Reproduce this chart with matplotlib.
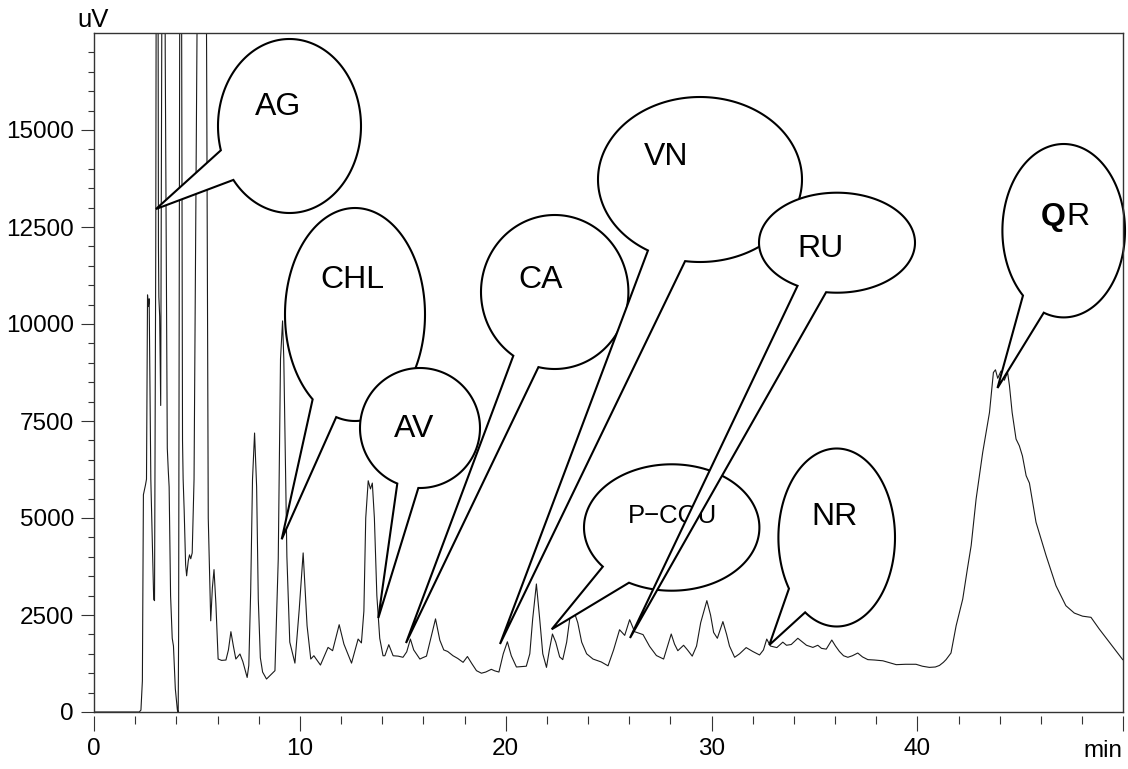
import numpy as np
import matplotlib
matplotlib.use('Agg')
import matplotlib.pyplot as plt
from matplotlib.patches import Polygon
from matplotlib.transforms import Affine2D
from matplotlib.ticker import FixedLocator

plt.rcParams['font.family'] = ['Liberation Sans', 'DejaVu Sans']

W, H = 1128, 769

# chromatogram trace (retention time in min, signal in uV)
# peaks that run off the top of the chart are given estimated heights above the axis limit
rt_min = [
    0.00, 2.20, 2.28, 2.35, 2.40, 2.50, 2.55, 2.60, 2.64, 2.68, 2.76, 2.90, 2.94,
    3.00, 3.07, 3.13, 3.15, 3.19, 3.24, 3.29, 3.38, 3.46, 3.56, 3.61, 3.65, 3.72,
    3.80, 3.86, 3.95, 4.05, 4.09, 4.11, 4.16, 4.21, 4.26, 4.30, 4.33, 4.38, 4.45,
    4.50, 4.58, 4.64, 4.70, 4.77, 4.86, 5.00, 5.25, 5.47, 5.55, 5.67, 5.75, 5.83,
    5.92, 6.03, 6.20, 6.41, 6.53, 6.65, 6.77, 6.89, 7.09, 7.23, 7.44, 7.52, 7.61,
    7.70, 7.80, 7.90, 7.98, 8.08, 8.19, 8.38, 8.63, 8.79, 8.95, 9.06, 9.16, 9.22,
    9.37, 9.51, 9.76, 9.97, 10.16, 10.35, 10.53, 10.68, 11.00, 11.37, 11.59, 11.91,
    12.14, 12.51, 12.83, 12.99, 13.11, 13.20, 13.32, 13.43, 13.52, 13.62, 13.74,
    13.88, 14.04, 14.13, 14.32, 14.53, 14.77, 15.01, 15.19, 15.37, 15.53, 15.83,
    15.97, 16.15, 16.36, 16.59, 16.80, 16.99, 17.18, 17.44, 17.67, 17.93, 18.14,
    18.35, 18.58, 18.82, 19.03, 19.30, 19.47, 19.67, 19.88, 20.08, 20.27, 20.52,
    20.73, 21.00, 21.17, 21.31, 21.49, 21.65, 21.80, 21.98, 22.12, 22.27, 22.43,
    22.62, 22.77, 22.96, 23.11, 23.30, 23.50, 23.69, 23.93, 24.24, 24.64, 24.97,
    25.24, 25.53, 25.78, 26.02, 26.26, 26.67, 26.99, 27.32, 27.67, 27.86, 28.04,
    28.20, 28.36, 28.64, 28.83, 29.06, 29.27, 29.47, 29.77, 29.95, 30.10, 30.28,
    30.55, 30.73, 30.87, 31.12, 31.36, 31.68, 32.00, 32.33, 32.52, 32.68, 32.86,
    33.17, 33.46, 33.64, 33.87, 34.19, 34.42, 34.61, 34.92, 35.16, 35.34, 35.57,
    35.84, 36.02, 36.21, 36.41, 36.62, 36.84, 37.10, 37.33, 37.59, 37.91, 38.32,
    38.64, 38.97, 39.42, 39.93, 40.24, 40.58, 40.87, 41.07, 41.26, 41.39, 41.63,
    41.88, 42.20, 42.43, 42.61, 42.85, 43.17, 43.50, 43.69, 43.79, 43.90, 44.06,
    44.22, 44.38, 44.47, 44.60, 44.79, 44.95, 45.10, 45.28, 45.44, 45.76, 46.25,
    46.73, 47.21, 47.62, 48.02, 48.43, 48.83, 49.32, 49.97,
]
signal_uV = [
    0, 0, 50, 800, 5600, 5850, 6000, 10750, 10450, 10650, 6000, 2900, 2870,
    12000, 35000, 12000, 10700, 10200, 7900, 17000, 35000, 17000, 6800, 6200, 5800, 3000,
    1900, 1700, 600, 50, 0, 2000, 17000, 30000, 17000, 7000, 6000, 5200, 3800,
    3510, 3900, 4050, 3950, 4100, 6000, 17000, 40000, 17000, 5000, 2350, 3200, 3670,
    2800, 1365, 1330, 1340, 1600, 2070, 1700, 1365, 1495, 1300, 890, 1200, 3090,
    6000, 7190, 5800, 2910, 1400, 1030, 850, 980, 1065, 3940, 9100, 10080, 9100,
    4000, 1800, 1260, 2650, 4100, 2225, 1365, 1450, 1210, 1665, 1580, 2250,
    1750, 1260, 1880, 1780, 2600, 5000, 5960, 5750, 5900, 5000, 3000,
    1900, 1450, 1450, 1735, 1450, 1440, 1410, 1550, 1880, 1600, 1365,
    1400, 1440, 1900, 2400, 1850, 1600, 1560, 1450, 1380, 1280, 1430,
    1250, 1065, 1000, 1030, 1100, 1060, 1030, 1500, 1810, 1450, 1160,
    1170, 1180, 1500, 2400, 3300, 2400, 1500, 1150, 1600, 2010, 1800,
    1420, 1350, 1800, 2400, 2620, 2300, 1800, 1500, 1365, 1290, 1190,
    1600, 2120, 1975, 2380, 2070, 1995, 1690, 1455, 1365, 1700, 2010,
    1750, 1580, 1720, 1600, 1440, 1700, 2300, 2870, 2500, 2050, 1900,
    2330, 2000, 1700, 1410, 1500, 1660, 1560, 1470, 1600, 1880, 1700,
    1660, 1800, 1720, 1740, 1900, 1800, 1720, 1665, 1720, 1640, 1620,
    1855, 1700, 1560, 1450, 1410, 1450, 1520, 1420, 1350, 1340, 1320,
    1270, 1220, 1230, 1230, 1180, 1150, 1160, 1200, 1280, 1350, 1520,
    2225, 2910, 3700, 4290, 5490, 6690, 7720, 8750, 8820, 8600, 8790,
    8550, 8750, 8410, 7720, 7035, 6860, 6600, 6090, 5900, 4890, 4030,
    3255, 2740, 2550, 2470, 2440, 2140, 1800, 1350,
]

x_major = [0, 10, 20, 30, 40, 50]
x_major_labels = ['0', '10', '20', '30', '40', '']
x_minor = list(range(0, 51, 2))
y_major = [0, 2500, 5000, 7500, 10000, 12500, 15000]
y_minor = list(range(0, 17001, 500))

# callout balloons, laid out in image pixels (y down):
# label, ellipse centre, radii, two base points of the pointer, pointer tip, text baseline pos, font size
balloons = [
    ('AG',    (289.5, 126.0), (71.5, 87.0), (221.7, 150.0), (233.3, 180.0), (156.0, 209.0), (278.0, 115.0), 23),
    ('CHL',   (355.0, 314.5), (70.0, 106.5), (312.3, 400.0), (336.0, 418.3), (281.7, 539.3), (352.5, 288.3), 23),
    ('AV',    (420.0, 428.0), (60.0, 60.0), (396.7, 485.0), (418.3, 489.3), (378.3, 618.0), (414.0, 436.7), 23),
    ('CA',    (554.7, 292.0), (73.7, 77.0), (512.7, 356.7), (538.3, 367.7), (406.0, 643.0), (540.5, 288.3), 23),
    ('VN',    (700.0, 179.5), (102.0, 82.5), (648.3, 250.0), (685.0, 261.7), (500.0, 644.0), (666.5, 165.0), 23),
    ('P\u2212COU', (671.7, 527.5), (87.7, 63.2), (602.7, 566.7), (629.3, 582.3), (551.7, 629.3), (673.0, 523.3), 18.5),
    ('RU',    (837.0, 242.7), (78.0, 50.0), (798.3, 285.0), (826.0, 292.7), (630.0, 638.0), (820.0, 256.7), 23),
    ('NR',    (836.7, 537.5), (58.3, 89.0), (788.3, 589.3), (805.0, 612.7), (769.3, 645.0), (834.0, 525.0), 23),
    ('QR',    (1063.7, 230.7), (61.3, 86.7), (1023.3, 295.0), (1044.0, 311.7), (997.5, 388.0), (1063.0, 225.0), 23),
]


def balloon_outline(centre, radii, b1, b2, tip):
    # ellipse arc the long way round between the two base points, then out to the tip
    cx, cy = centre
    rx, ry = radii
    a1 = np.arctan2((b1[1] - cy) / ry, (b1[0] - cx) / rx)
    a2 = np.arctan2((b2[1] - cy) / ry, (b2[0] - cx) / rx)
    d = (a2 - a1) % (2 * np.pi)
    if d < np.pi:
        ang = np.linspace(a2, a1 + 2 * np.pi, 200)
    else:
        ang = np.linspace(a1, a1 + d, 200)
    pts = np.column_stack([cx + rx * np.cos(ang), cy + ry * np.sin(ang)])
    return np.vstack([pts, [tip]])


fig = plt.figure(figsize=(W / 100, H / 100), dpi=100)
ax = fig.add_axes([94 / W, 1 - 712 / H, (1123.3 - 94) / W, (712 - 33) / H])
pix = Affine2D().scale(1 / W, -1 / H).translate(0, 1) + fig.transFigure

ax.plot(rt_min, signal_uV, color='#1a1a1a', lw=0.8, zorder=2)
ax.set_xlim(0, 50)
ax.set_ylim(0, 17500)

ax.xaxis.set_major_locator(FixedLocator(x_major))
ax.set_xticklabels(x_major_labels)
ax.xaxis.set_minor_locator(FixedLocator(x_minor))
ax.yaxis.set_major_locator(FixedLocator(y_major))
ax.set_yticklabels([str(v) for v in y_major])
ax.yaxis.set_minor_locator(FixedLocator(y_minor))

frame_col = '#333333'
ax.tick_params(axis='both', which='both', direction='out', color=frame_col, width=0.8,
               labelsize=17.5, labelcolor='black')
ax.tick_params(axis='y', which='major', length=9.4, pad=5)
ax.tick_params(axis='y', which='minor', length=4.5)
ax.tick_params(axis='x', which='major', length=11, pad=5)
ax.tick_params(axis='x', which='minor', length=6)
for s in ax.spines.values():
    s.set_color(frame_col)
    s.set_linewidth(1.0)
    s.set_zorder(20)
# x ticks sit a little below the frame line
ax.spines['bottom'].set_position(('outward', 3))
ax.spines['bottom'].set_visible(False)
ax.plot([0, 1], [0, 0], transform=ax.transAxes, color=frame_col, lw=1.0,
        clip_on=False, zorder=20)

for i, (lab, c, r, b1, b2, tip, tpos, fs) in enumerate(balloons):
    z = 5 + i
    poly = Polygon(balloon_outline(c, r, b1, b2, tip), closed=True, transform=pix,
                   facecolor='white', edgecolor='black', lw=1.5, joinstyle='miter',
                   clip_on=False, zorder=z)
    ax.add_patch(poly)
    if lab == 'QR':
        ax.text(tpos[0] + 3, tpos[1], 'Q', transform=pix, ha='right', va='baseline',
                fontsize=fs, fontweight='bold', zorder=z + 0.5, clip_on=False)
        ax.text(tpos[0] + 3, tpos[1], 'R', transform=pix, ha='left', va='baseline',
                fontsize=fs, zorder=z + 0.5, clip_on=False)
    else:
        ax.text(tpos[0], tpos[1], lab, transform=pix, ha='center', va='baseline',
                fontsize=fs, zorder=z + 0.5, clip_on=False)

ax.text(93.5, 27, 'uV', transform=pix, ha='center', va='baseline', fontsize=18.5, clip_on=False)
ax.text(1122, 757, 'min', transform=pix, ha='right', va='baseline', fontsize=17.5, clip_on=False)

fig.savefig('out.png', dpi=100, facecolor='white')
